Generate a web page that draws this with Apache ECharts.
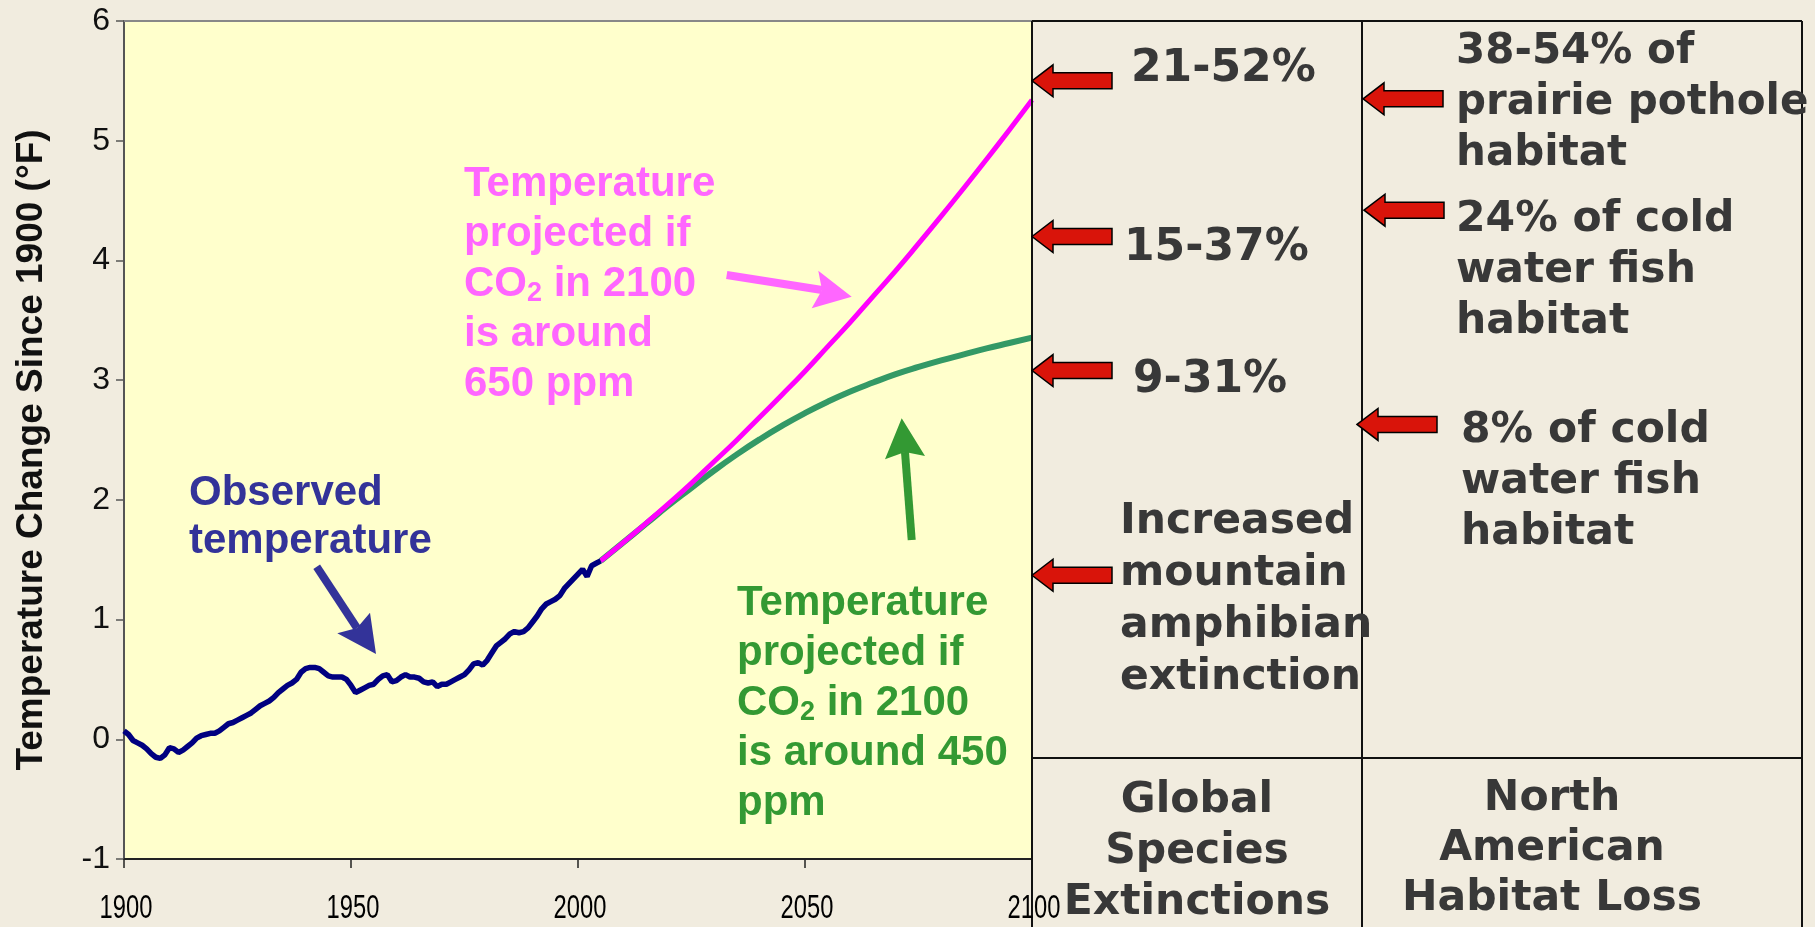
<!DOCTYPE html>
<html><head><meta charset="utf-8">
<script src="https://cdn.jsdelivr.net/npm/echarts@6/dist/echarts.min.js"></script>
<style>html,body{margin:0;padding:0;background:#F1ECDF;} #c{width:1815px;height:927px;}</style>
</head><body><div id="c"></div>
<script>
// ---- data ----
const obsYears = [1900,1901,1902,1903,1904,1905,1906,1907,1908,1909,1910,1911,1912,1913,1914,1915,1916,1917,1918,1919,
  1920,1921,1922,1923,1924,1925,1926,1927,1928,1929,1930,1931,1932,1933,1934,1935,1936,1937,1938,1939,
  1940,1941,1942,1943,1944,1945,1946,1947,1948,1949,1950,1951,1952,1953,1954,1955,1956,1957,1958,1959,
  1960,1961,1962,1963,1964,1965,1966,1967,1968,1969,1970,1971,1972,1973,1974,1975,1976,1977,1978,1979,
  1980,1981,1982,1983,1984,1985,1986,1987,1988,1989,1990,1991,1992,1993,1994,1995,1996,1997,1998,1999,
  2000,2001,2002,2003,2004,2005];
const obsTemps = [0.07,0.04,-0.01,-0.03,-0.05,-0.08,-0.12,-0.15,-0.16,-0.13,-0.07,-0.08,-0.11,-0.09,-0.06,-0.03,0.01,0.03,0.04,0.05,
  0.05,0.07,0.10,0.13,0.14,0.16,0.18,0.20,0.22,0.25,0.28,0.30,0.32,0.35,0.39,0.42,0.45,0.47,0.50,0.56,
  0.59,0.60,0.60,0.59,0.56,0.53,0.52,0.52,0.52,0.50,0.45,0.39,0.41,0.43,0.45,0.46,0.50,0.53,0.54,0.48,
  0.49,0.52,0.54,0.52,0.52,0.51,0.48,0.47,0.48,0.44,0.46,0.46,0.48,0.50,0.52,0.54,0.58,0.63,0.64,0.62,
  0.66,0.72,0.78,0.81,0.84,0.88,0.90,0.89,0.90,0.93,0.98,1.03,1.09,1.13,1.15,1.17,1.20,1.26,1.30,1.34,
  1.38,1.42,1.36,1.45,1.47,1.49];
const projYears = [2005,2010,2015,2020,2025,2030,2035,2040,2045,2050,2055,2060,2065,2070,2075,2080,2085,2090,2095,2100];
const proj650 = [1.49,1.645,1.805,1.97,2.14,2.32,2.50,2.69,2.88,3.075,3.28,3.485,3.70,3.915,4.14,4.37,4.605,4.845,5.09,5.34];
const proj450 = [1.49,1.645,1.80,1.955,2.10,2.245,2.38,2.505,2.62,2.725,2.82,2.905,2.98,3.05,3.11,3.165,3.215,3.265,3.31,3.355];
const xTicks = [1900,1950,2000,2050,2100];
const yTicks = [-1,0,1,2,3,4,5,6];
const extinctionArrowTemps = [5.50, 4.20, 3.08, 1.37];
const habitatArrowTemps = [5.35, 4.42, 2.63];
const extinctionLabels = ['21-52%','15-37%','9-31%','Increased\nmountain\namphibian\nextinction'];
const habitatLabels = ['38-54% of\nprairie pothole\nhabitat','24% of cold\nwater fish\nhabitat','8% of cold\nwater fish\nhabitat'];
const columnTitles = ['Global\nSpecies\nExtinctions','North\nAmerican\nHabitat Loss'];
const yTitle = 'Temperature Change Since 1900 (°F)';

// ---- chart ----
const chart = echarts.init(document.getElementById('c'), null, {renderer:'canvas'});
const zip = (a,b)=>a.map((v,i)=>[v,b[i]]);
const SANS = "Liberation Sans";
const WIDE = "DejaVu Sans";

chart.setOption({
  backgroundColor:'#F1ECDF',
  animation:false,
  grid:{left:124, top:21, width:908, height:838, show:true, backgroundColor:'#FFFFCC', borderWidth:0,
    containLabel:false, outerBoundsMode:'none'},
  xAxis:{type:'value', min:xTicks[0], max:xTicks[xTicks.length-1], interval:50,
    axisLine:{show:true, onZero:false, lineStyle:{color:'#222', width:2}},
    axisTick:{show:true, length:9, lineStyle:{color:'#222', width:1.5}},
    axisLabel:{show:false},
    splitLine:{show:false}},
  yAxis:{type:'value', min:yTicks[0], max:yTicks[yTicks.length-1], interval:1,
    axisLine:{show:true, lineStyle:{color:'#555', width:2}},
    axisTick:{show:true, length:8, lineStyle:{color:'#555', width:1.5}},
    axisLabel:{fontFamily:SANS, fontSize:32, color:'#111', margin:14},
    splitLine:{show:false},
    name:yTitle, nameLocation:'middle', nameRotate:90, nameGap:74,
    nameTextStyle:{fontFamily:SANS, fontWeight:'bold', fontSize:37, color:'#111', padding:[0,20,0,0]}},
  series:[
    {type:'line', data:zip(projYears, proj450), showSymbol:false, smooth:true, lineStyle:{color:'#339966', width:6}, z:2},
    {type:'line', data:zip(projYears, proj650), showSymbol:false, smooth:true, lineStyle:{color:'#FF00FF', width:5}, z:3},
    {type:'line', data:zip(obsYears, obsTemps), showSymbol:false, lineStyle:{color:'#000080', width:5.5}, z:4}
  ]
});

function yPix(v){ return chart.convertToPixel({yAxisIndex:0}, v); }
function xPix(v){ return chart.convertToPixel({xAxisIndex:0}, v); }
function redArrow(tipX, y){
  return {type:'polygon', z:20, shape:{points:[[tipX,y],[tipX+21,y-16],[tipX+21,y-8],[tipX+80,y-8],[tipX+80,y+8],[tipX+21,y+8],[tipX+21,y+16]]},
    style:{fill:'#D9140A', stroke:'#000', lineWidth:1.5}};
}
function fatArrow(tail, tip, b1, b2, notch, color, w){
  return [
    {type:'line', z:15, shape:{x1:tail[0], y1:tail[1], x2:notch[0], y2:notch[1]}, style:{stroke:color, lineWidth:w}},
    {type:'polygon', z:15, shape:{points:[tip,b1,notch,b2]}, style:{fill:color}}
  ];
}
const wideText = (x,y,text,align,lh,size)=>({type:'text', z:20, x:x, y:y, style:{text:text, fill:'#383838', font:"bold "+(size||42.5)+"px "+WIDE, textAlign:align||'left', textVerticalAlign:'top', lineHeight:lh||52}});
const annRich = (color)=>({b:{fontFamily:SANS, fontWeight:'bold', fontSize:42, lineHeight:50, fill:color, color:color},
  s:{fontFamily:SANS, fontWeight:'bold', fontSize:27, fill:color, color:color, padding:[20,0,0,0], lineHeight:50}});

const gx0 = 1032, gx1 = 1362, gx2 = 1802, gTop = 21, gMid = 758, H = 927;
const graphics = [
  {type:'line', z:10, shape:{x1:124, y1:gTop, x2:gx0, y2:gTop}, style:{stroke:'#888', lineWidth:2}},
  {type:'line', z:10, shape:{x1:gx0, y1:gTop, x2:gx2, y2:gTop}, style:{stroke:'#111', lineWidth:2}},
  {type:'line', z:10, shape:{x1:gx0, y1:gMid, x2:gx2, y2:gMid}, style:{stroke:'#111', lineWidth:2}},
  {type:'line', z:10, shape:{x1:gx0, y1:gTop, x2:gx0, y2:H}, style:{stroke:'#111', lineWidth:2}},
  {type:'line', z:10, shape:{x1:gx1, y1:gTop, x2:gx1, y2:H}, style:{stroke:'#111', lineWidth:2}},
  {type:'line', z:10, shape:{x1:gx2, y1:gTop, x2:gx2, y2:H}, style:{stroke:'#111', lineWidth:2}},
];
// condensed x tick labels, positioned from the axis scale
xTicks.forEach(v=>graphics.push({type:'text', z:12, x:xPix(v)+2, y:909, scaleX:0.72,
  style:{text:String(v), font:"33px "+SANS, fill:'#000', textAlign:'center', textVerticalAlign:'middle'}}));

extinctionArrowTemps.forEach(t=>graphics.push(redArrow(gx0, yPix(t))));
const habTipX = [1363, 1364, 1357];
habitatArrowTemps.forEach((t,i)=>graphics.push(redArrow(habTipX[i], yPix(t))));

// column texts
const dy = 4;
graphics.push(wideText(1131, 66-26+dy, extinctionLabels[0], 'left', 52, 44));
graphics.push(wideText(1124, 245-26+dy, extinctionLabels[1], 'left', 52, 44));
graphics.push(wideText(1133, 377-26+dy, extinctionLabels[2], 'left', 52, 44));
graphics.push(wideText(1120, 518-26+dy, extinctionLabels[3]));
graphics.push(wideText(1456, 49-26+dy, habitatLabels[0], 'left', 51, 42));
graphics.push(wideText(1456, 216-26+dy, habitatLabels[1], 'left', 51));
graphics.push(wideText(1461, 427-26+dy, habitatLabels[2], 'left', 51));
graphics.push(wideText(1197, 797-26+dy, columnTitles[0], 'center', 51));
graphics.push(wideText(1552, 796-26+dy, columnTitles[1], 'center', 50));

// plot annotations
graphics.push({type:'text', z:20, x:189, y:490-24+3, style:{text:'Observed\ntemperature', fill:'#333399', font:"bold 42px "+SANS, textVerticalAlign:'top', lineHeight:48}});
graphics.push({type:'text', z:20, x:464, y:182-25+2, style:{
  text:'{b|Temperature}\n{b|projected if}\n{b|CO}{s|2}{b| in 2100}\n{b|is around}\n{b|650 ppm}', rich:annRich('#FF66FF'), textVerticalAlign:'top'}});
graphics.push({type:'text', z:20, x:737, y:600-25+3, style:{
  text:'{b|Temperature}\n{b|projected if}\n{b|CO}{s|2}{b| in 2100}\n{b|is around 450}\n{b|ppm}', rich:annRich('#339933'), textVerticalAlign:'top'}});
fatArrow([316.7,566.7],[376,654],[337.3,633.3],[370,612.7],[357,628],'#333399',8).forEach(g=>graphics.push(g));
fatArrow([726.7,275],[851.7,296.7],[818.3,270.7],[811.7,308.3],[822,290],'#FF66FF',8).forEach(g=>graphics.push(g));
fatArrow([911.7,540],[901.7,418.3],[885,459.3],[925,456],[905,452],'#339933',8).forEach(g=>graphics.push(g));

chart.setOption({graphic:graphics});
</script></body></html>
